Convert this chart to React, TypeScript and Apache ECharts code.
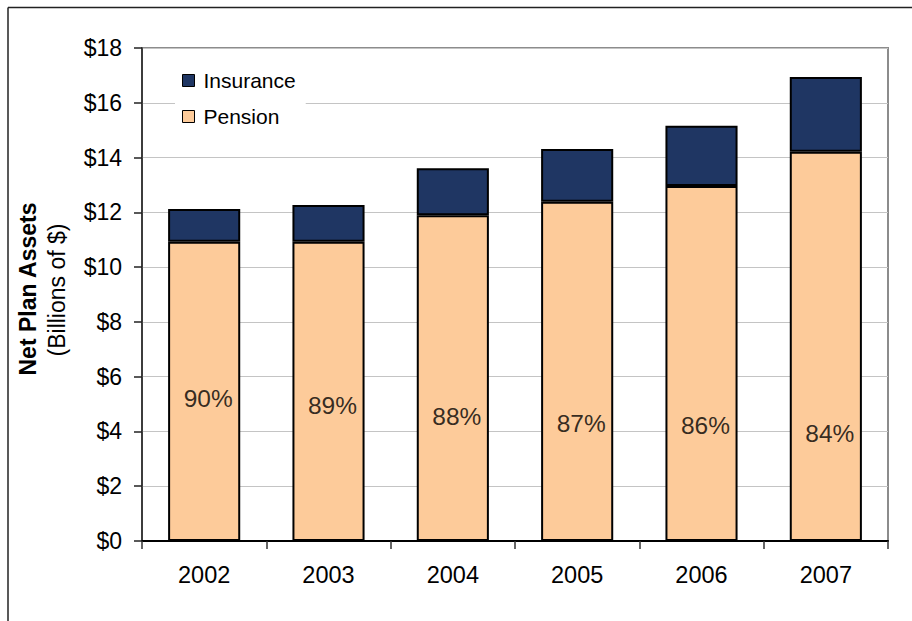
import React, { useEffect, useRef } from "react";
import * as echarts from "echarts";

const years = ["2002", "2003", "2004", "2005", "2006", "2007"];
const pension = [10.93, 10.93, 11.89, 12.39, 12.96, 14.21];
const insurance = [1.19, 1.34, 1.72, 1.92, 2.2, 2.73];
const pensionShare = ["90%", "89%", "88%", "87%", "86%", "84%"];
const shareLabelHeight = [5.22, 4.93, 4.54, 4.3, 4.2, 3.93];
const yTicks = { min: 0, max: 18, interval: 2 };

const FONT = "'Liberation Sans', Arial, sans-serif";

export default function App() {
  const ref = useRef<HTMLDivElement>(null);
  useEffect(() => {
    if (!ref.current) return;
    const chart = echarts.init(ref.current, undefined, { renderer: "svg" });
    chart.setOption({
      animation: false,
      backgroundColor: "#ffffff",
      textStyle: { fontFamily: FONT },
      grid: {
        left: 142,
        top: 48,
        right: 24,
        bottom: 80,
        show: true,
        borderColor: "#8c8c8c",
        borderWidth: 2,
        backgroundColor: "transparent",
      },
      legend: {
        data: ["Insurance", "Pension"],
        orient: "vertical",
        left: 175,
        top: 60,
        padding: [10, 10, 10, 7],
        backgroundColor: "#ffffff",
        itemWidth: 12,
        itemHeight: 12,
        itemGap: 15,
        icon: "rect",
        itemStyle: { borderColor: "#000", borderWidth: 1 },
        textStyle: { fontSize: 21, color: "#000", fontFamily: FONT, padding: [0, 0, 0, 4] },
      },
      xAxis: {
        type: "category",
        data: years,
        boundaryGap: true,
        axisLine: { lineStyle: { color: "#000", width: 2 } },
        axisTick: { show: true, length: 8, lineStyle: { color: "#333", width: 1.5 } },
        axisLabel: { fontSize: 23.5, color: "#000", margin: 22, fontFamily: FONT },
        splitLine: { show: false },
      },
      yAxis: {
        type: "value",
        min: yTicks.min,
        max: yTicks.max,
        interval: yTicks.interval,
        axisLine: { show: true, lineStyle: { color: "#222", width: 1.5 } },
        axisTick: { show: true, length: 8, lineStyle: { color: "#222", width: 1.5 } },
        axisLabel: {
          fontSize: 23,
          color: "#000",
          margin: 20,
          fontFamily: FONT,
          formatter: (v: number) => "$" + v,
        },
        splitLine: { show: true, lineStyle: { color: "#c4c4c4", width: 1 } },
      },
      series: [
        {
          name: "Pension",
          type: "bar",
          stack: "total",
          barWidth: "58%",
          data: pension,
          itemStyle: { color: "#FDCB9A", borderColor: "#000", borderWidth: 2 },
          z: 2,
        },
        {
          name: "Insurance",
          type: "bar",
          stack: "total",
          barWidth: "58%",
          data: insurance,
          itemStyle: { color: "#1F3663", borderColor: "#000", borderWidth: 2 },
          z: 2,
        },
        {
          name: "share",
          type: "scatter",
          symbolSize: 0,
          data: years.map((y, i) => [y, shareLabelHeight[i]]),
          label: {
            show: true,
            position: "inside",
            offset: [4, 0],
            fontSize: 24.5,
            color: "#000",
            fontFamily: FONT,
            formatter: (p: any) => pensionShare[p.dataIndex],
          },
          z: 5,
          silent: true,
        },
      ],
      graphic: [
        {
          type: "line",
          shape: { x1: 8, y1: 7.5, x2: 912, y2: 7.5 },
          style: { stroke: "#222", lineWidth: 1.5 },
        },
        {
          type: "line",
          shape: { x1: 8, y1: 7.5, x2: 8, y2: 621 },
          style: { stroke: "#222", lineWidth: 1.5 },
        },
        {
          type: "text",
          x: 28,
          y: 289,
          rotation: Math.PI / 2,
          style: {
            text: "Net Plan Assets",
            font: `bold 23px ${FONT}`,
            fill: "#000",
            align: "center",
            verticalAlign: "middle",
          },
        },
        {
          type: "text",
          x: 57,
          y: 290,
          rotation: Math.PI / 2,
          style: {
            text: "(Billions of $)",
            font: `23px ${FONT}`,
            fill: "#000",
            align: "center",
            verticalAlign: "middle",
          },
        },
      ],
    });
    return () => chart.dispose();
  }, []);
  return (
    <div
      ref={ref}
      style={{ position: "fixed", left: 0, top: 0, width: 912, height: 621, background: "#fff" }}
    />
  );
}
